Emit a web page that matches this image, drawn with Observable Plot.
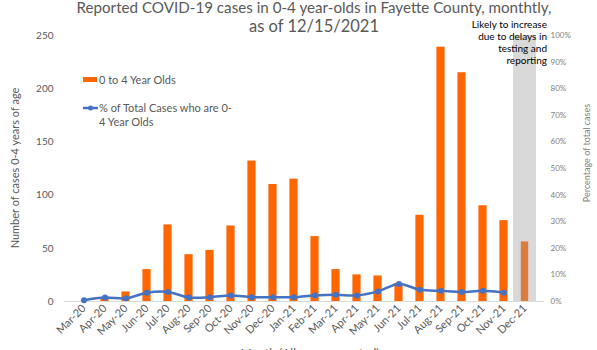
<!DOCTYPE html>
<html><head><meta charset="utf-8">
<script src="https://cdn.jsdelivr.net/npm/d3@7"></script>
<script src="https://cdn.jsdelivr.net/npm/@observablehq/plot@0.6"></script>
<style>
body{margin:0;background:#fff;}
#chart svg{font-family:Lato,"Open Sans",sans-serif;overflow:visible;}
</style>
</head><body><div id="chart"></div>
<script>
const months = ["Mar-20","Apr-20","May-20","Jun-20","Jul-20","Aug-20","Sep-20","Oct-20","Nov-20","Dec-20","Jan-21","Feb-21","Mar-21","Apr-21","May-21","Jun-21","Jul-21","Aug-21","Sep-21","Oct-21","Nov-21","Dec-21"];
const cases = [0,2,9,30,72,44,48,71,132,110,115,61,30,25,24,17,81,239,215,90,76,56];
const pctMonths = months.slice(0,21);
const pctValues = [0.5,1.5,1.2,3.3,3.6,1.5,1.6,2.3,1.6,1.6,1.6,2.3,2.5,2.3,3.8,6.6,4.4,4.0,3.6,4.0,3.3];
const leftTicks = [0,50,100,150,200,250];
const rightTicks = [0,10,20,30,40,50,60,70,80,90,100];
const incompleteMonth = "Dec-21";
const leftMax = 250, rightMax = 100;
const k = leftMax / rightMax; // percent -> left-axis units

const caseData = months.map((m,i)=>({month:m, cases:cases[i]}));
const pctData = pctMonths.map((m,i)=>({month:m, pct:pctValues[i]}));

const plot = Plot.plot({
  width: 597, height: 350,
  marginLeft: 64, marginRight: 53, marginTop: 35, marginBottom: 49,
  style: {fontFamily: "Lato, 'Open Sans', sans-serif", fontSize: "11px", color: "#595959", background: "#fff"},
  x: {type: "band", domain: months, padding: 0, label: null},
  y: {domain: [0, leftMax], label: null},
  marks: [
    Plot.barY([incompleteMonth], {x: d => d, y: () => rightMax * k, fill: "#d9d9d9", insetLeft: -1, insetRight: -1}),
    Plot.ruleY([0], {stroke: "#d9d9d9", strokeWidth: 1}),
    Plot.barY(caseData.filter(d => d.month !== incompleteMonth), {x: "month", y: "cases", fill: "#ff6600", insetLeft: 6.4, insetRight: 6.4}),
    Plot.barY(caseData.filter(d => d.month === incompleteMonth), {x: "month", y: "cases", fill: "#db7b3d", insetLeft: 6.8, insetRight: 6.8}),
    Plot.line(pctData, {x: "month", y: d => d.pct * k, stroke: "#4472c4", strokeWidth: 2.5, curve: "catmull-rom"}),
    Plot.dot(pctData, {x: "month", y: d => d.pct * k, r: 3, fill: "#4472c4"}),
    Plot.axisY({anchor: "left", ticks: leftTicks, tickSize: 0, tickPadding: 11, label: null, fontSize: 10, fill: "#595959"}),
    Plot.axisY({anchor: "right", ticks: rightTicks.map(p => p * k), tickFormat: d => Math.round(d / k) + "%", tickSize: 0, tickPadding: 6, label: null, fontSize: 8, fill: "#7f7f7f"}),
    Plot.axisX({tickRotate: -45, tickSize: 0, tickPadding: 5, label: null, fontSize: 11, fill: "#595959"})
  ]
});
document.getElementById("chart").appendChild(plot);

const svg = d3.select(plot);
const g = svg.append("g").attr("font-family", "Lato, 'Open Sans', sans-serif").attr("text-anchor", "start");
// Title
g.append("text").attr("x", 314).attr("y", 13).attr("text-anchor", "middle").attr("font-size", 16).attr("fill", "#595959")
  .attr("textLength", 475).attr("lengthAdjust", "spacingAndGlyphs")
  .text("Reported COVID-19 cases in 0-4 year-olds in Fayette County, monthtly,");
g.append("text").attr("x", 314).attr("y", 32).attr("text-anchor", "middle").attr("font-size", 16.5).attr("fill", "#595959")
  .text("as of 12/15/2021");
// Axis titles
g.append("text").attr("transform", "translate(19,168) rotate(-90)").attr("text-anchor", "middle").attr("font-size", 11).attr("fill", "#595959")
  .text("Number of cases 0-4 years of age");
g.append("text").attr("transform", "translate(590,153) rotate(-90)").attr("text-anchor", "middle").attr("font-size", 9).attr("fill", "#7f7f7f")
  .text("Percentage of total cases");
g.append("text").attr("x", 310).attr("y", 357).attr("text-anchor", "middle").attr("font-size", 12).attr("fill", "#595959")
  .text("Month (All cases reported)");
// Annotation
const note = ["Likely to increase", "due to delays in", "testing and", "reporting"];
note.forEach((t, i) => g.append("text").attr("x", 547).attr("y", 28 + i * 12).attr("text-anchor", "end").attr("font-size", 10).attr("fill", "#000").text(t));
// Legend
g.append("rect").attr("x", 83).attr("y", 77).attr("width", 14).attr("height", 5).attr("fill", "#ff6600");
g.append("text").attr("x", 99).attr("y", 84).attr("text-anchor", "start").attr("font-size", 11).attr("fill", "#595959").text("0 to 4 Year Olds");
g.append("line").attr("x1", 83).attr("x2", 98).attr("y1", 108).attr("y2", 108).attr("stroke", "#4472c4").attr("stroke-width", 2.5);
g.append("circle").attr("cx", 90.5).attr("cy", 108).attr("r", 2.5).attr("fill", "#4472c4");
g.append("text").attr("x", 99).attr("y", 112).attr("text-anchor", "start").attr("font-size", 11).attr("fill", "#595959").text("% of Total Cases who are 0-");
g.append("text").attr("x", 99).attr("y", 126).attr("text-anchor", "start").attr("font-size", 11).attr("fill", "#595959").text("4 Year Olds");
</script>
</body></html>
